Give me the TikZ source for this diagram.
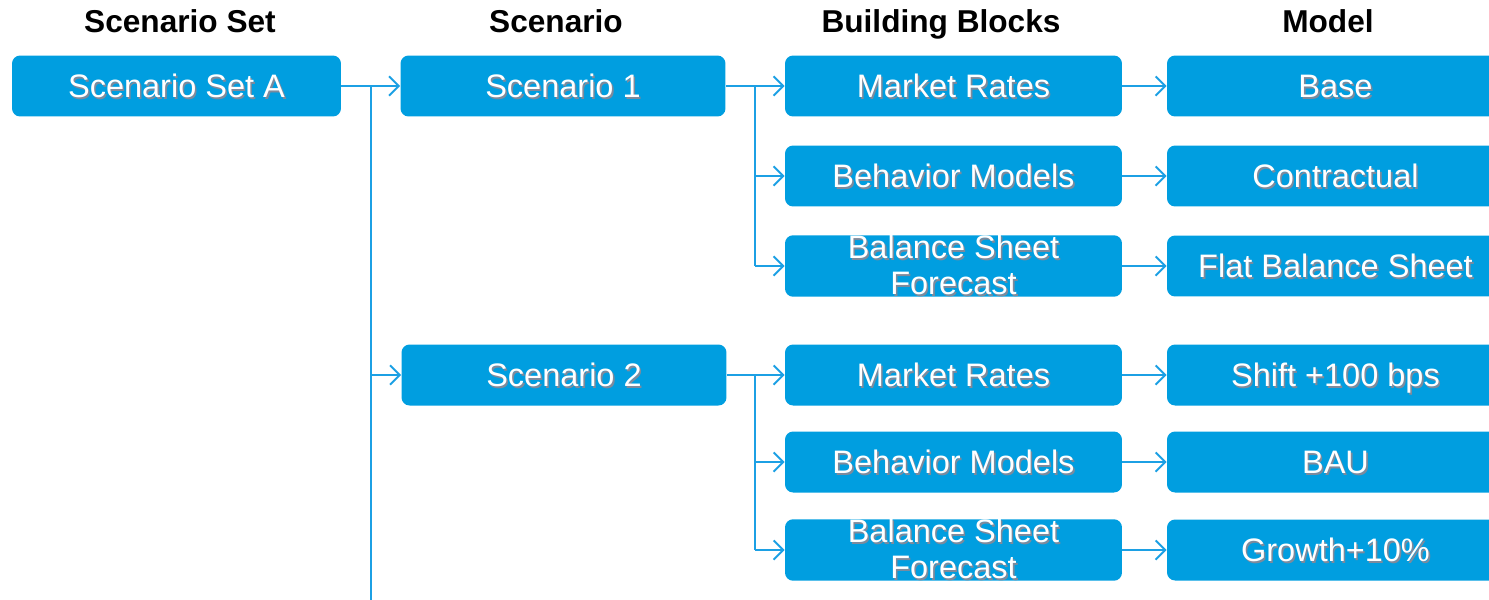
\documentclass[tikz,border=0pt]{standalone}
\usepackage{fontspec}
\setmainfont{Liberation Sans}
\usetikzlibrary{arrows.meta}
\definecolor{boxblue}{RGB}{0,158,224}
\definecolor{linkblue}{RGB}{28,160,228}
\definecolor{shadowc}{RGB}{40,60,90}
% white label with a soft drop shadow
\newcommand{\shtxt}[1]{\leavevmode\rlap{\kern0.9pt\raisebox{-0.9pt}{\color{shadowc!60}#1}}#1}
\tikzset{
  blk/.style={rectangle, rounded corners=0.16cm, fill=boxblue, text=white,
    inner sep=0pt, minimum height=1.22cm, align=center,
    font=\fontsize{18.5}{21.5}\selectfont},
  oneline/.style={text height=13.3pt, text depth=0pt},
  setw/.style={minimum width=6.58cm},
  scw/.style={minimum width=6.5cm},
  bbw/.style={minimum width=6.74cm},
  head/.style={font=\fontsize{18}{21}\selectfont\bfseries, text=black,
    inner sep=0pt, anchor=base},
  link/.style={draw=linkblue, line width=1.1pt},
  arr/.style={link, -{Straight Barb[length=5.5pt,width=11pt,line width=1.1pt]}}
}
\begin{document}
\begin{tikzpicture}[x=0.02cm, y=-0.02cm]
\useasboundingbox (0,0) rectangle (1489,599);
\clip (0,0) rectangle (1489,599);

% column headings
\node[head] (h1) at (180,32) {Scenario Set};
\node[head] (h2) at (556,32) {Scenario};
\node[head] (h3) at (941,32) {Building Blocks};
\node[head] (h4) at (1328,32) {Model};

% scenario set and scenarios
\node[blk, oneline, setw] (setA) at (176.5,86) {\shtxt{Scenario Set  A}};
\node[blk, oneline, scw] (sc1) at (563,86) {\shtxt{Scenario 1}};
\node[blk, oneline, scw] (sc2) at (564,375) {\shtxt{Scenario 2}};

% building blocks
\node[blk, oneline, bbw] (mr1) at (953.5,86)  {\shtxt{Market Rates}};
\node[blk, oneline, bbw] (bm1) at (953.5,176) {\shtxt{Behavior Models}};
\node[blk, bbw] (bs1) at (953.5,266) {\shtxt{Balance Sheet}\\[-1pt]\shtxt{Forecast}};
\node[blk, oneline, bbw] (mr2) at (953.5,375) {\shtxt{Market Rates}};
\node[blk, oneline, bbw] (bm2) at (953.5,462) {\shtxt{Behavior Models}};
\node[blk, bbw] (bs2) at (953.5,550) {\shtxt{Balance Sheet}\\[-1pt]\shtxt{Forecast}};

% models
\node[blk, oneline, bbw] (m1) at (1335.5,86)  {\shtxt{Base}};
\node[blk, oneline, bbw] (m2) at (1335.5,176) {\shtxt{Contractual}};
\node[blk, oneline, bbw] (m3) at (1335.5,266) {\shtxt{Flat Balance Sheet}};
\node[blk, oneline, bbw] (m4) at (1335.5,375) {\shtxt{Shift +100 bps}};
\node[blk, oneline, bbw] (m5) at (1335.5,462) {\shtxt{BAU}};
\node[blk, oneline, bbw] (m6) at (1335.5,550) {\shtxt{Growth+10\%}};

% trunk from the scenario set
\coordinate (t0) at (371,86);
\coordinate (tend) at (371,620);
\draw[arr] (setA.east) -- (sc1.west);
\draw[link] (t0) -- (tend);
\draw[arr] (sc2.west -| t0) -- (sc2.west);

% branches from each scenario to its building blocks
\coordinate (b1) at (755,86);
\coordinate (b2) at (755,375);
\draw[arr] (sc1.east) -- (mr1.west);
\draw[link] (b1) -- (bs1.west -| b1);
\draw[arr] (bm1.west -| b1) -- (bm1.west);
\draw[arr] (bs1.west -| b1) -- (bs1.west);
\draw[arr] (sc2.east) -- (mr2.west);
\draw[link] (b2) -- (bs2.west -| b2);
\draw[arr] (bm2.west -| b2) -- (bm2.west);
\draw[arr] (bs2.west -| b2) -- (bs2.west);

% building blocks to models
\draw[arr] (mr1) -- (m1);
\draw[arr] (bm1) -- (m2);
\draw[arr] (bs1) -- (m3);
\draw[arr] (mr2) -- (m4);
\draw[arr] (bm2) -- (m5);
\draw[arr] (bs2) -- (m6);
\end{tikzpicture}
\end{document}
